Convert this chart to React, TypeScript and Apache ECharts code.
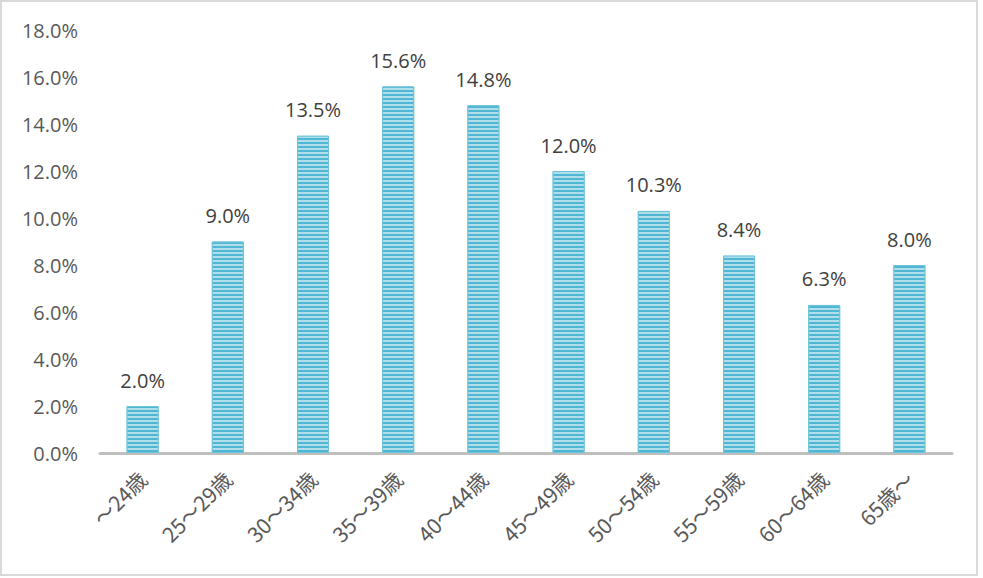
import React, { useEffect, useRef } from "react";
import * as echarts from "echarts";

const categories = ["～24歳", "25～29歳", "30～34歳", "35～39歳", "40～44歳", "45～49歳", "50～54歳", "55～59歳", "60～64歳", "65歳～"];
const values = [2.0, 9.0, 13.5, 15.6, 14.8, 12.0, 10.3, 8.4, 6.3, 8.0];

const FONT = "'Open Sans', 'Noto Sans CJK JP', sans-serif";
const XFONT = "'Noto Sans CJK JP', sans-serif";

export default function App() {
  const ref = useRef<HTMLDivElement>(null);
  useEffect(() => {
    const chart = echarts.init(ref.current!, undefined, { renderer: "svg" });
    chart.setOption({
      animation: false,
      backgroundColor: "#ffffff",
      grid: { left: 100, right: 31, top: 30, bottom: 125 },
      xAxis: {
        type: "category",
        data: categories,
        axisLine: { lineStyle: { color: "#bfbfbf", width: 3 } },
        axisTick: { show: false },
        axisLabel: { rotate: 45, color: "#595959", fontSize: 21, fontFamily: XFONT, margin: 22, interval: 0 },
      },
      yAxis: {
        type: "value",
        min: 0,
        max: 18,
        interval: 2,
        axisLine: { show: false },
        axisTick: { show: false },
        splitLine: { show: false },
        axisLabel: {
          color: "#595959",
          fontSize: 20,
          fontFamily: FONT,
          margin: 22,
          formatter: (v: number) => v.toFixed(1) + "%",
        },
      },
      series: [
        {
          type: "bar",
          data: values,
          barWidth: 32,
          itemStyle: {
            color: "#4fb7d3",
            borderColor: "#6cc3da",
            borderWidth: 1,
            decal: {
              symbol: "rect",
              dashArrayX: [[1, 0]],
              dashArrayY: [2, 2],
              rotation: 0,
              color: "rgba(255,255,255,0.55)",
            },
          },
          label: {
            show: true,
            position: "top",
            distance: 16,
            color: "#404040",
            fontSize: 20,
            fontFamily: FONT,
            formatter: (p: any) => p.value.toFixed(1) + "%",
          },
        },
      ],
    });
    return () => chart.dispose();
  }, []);
  return (
    <div style={{ position: "absolute", left: 0, top: 0, width: 983, height: 578 }}>
      <div ref={ref} style={{ width: 983, height: 578 }} />
      <div
        style={{
          position: "absolute",
          left: 0,
          top: 0,
          width: 978,
          height: 576,
          border: "2px solid #d9d9d9",
          boxSizing: "border-box",
          pointerEvents: "none",
        }}
      />
    </div>
  );
}
